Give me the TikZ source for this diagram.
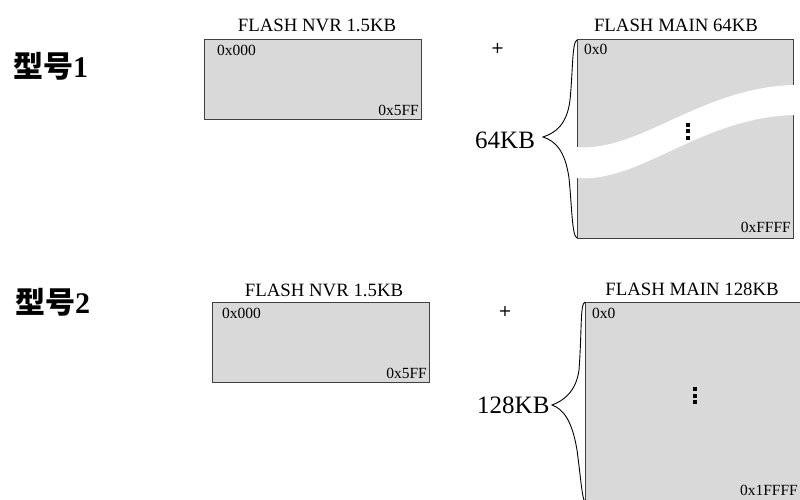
\documentclass[tikz,border=0pt]{standalone}
\usepackage{fontspec}
\setmainfont{Liberation Serif}
\newfontfamily\cjk{Noto Sans CJK SC}
\newfontfamily\plusfont{DejaVu Sans}
\definecolor{memfill}{HTML}{D9D9D9}
\definecolor{memline}{HTML}{404040}
\tikzset{
  membox/.style={draw=memline, fill=memfill, line width=1pt, inner sep=0pt, outer sep=0pt, anchor=north west},
  ttl/.style={inner sep=0pt, anchor=base, font=\fontsize{18.8}{20}\selectfont},
  addr/.style={inner sep=0pt, font=\fontsize{15.5}{16}\selectfont},
  sizelbl/.style={inner sep=0pt, anchor=base west, font=\fontsize{25}{26}\selectfont},
  model/.style={inner sep=0pt, anchor=base west, font=\fontsize{30}{32}\selectfont\bfseries},
  plus/.style={inner sep=0pt, font=\plusfont\fontsize{16}{16}\selectfont},
  bracel/.style={draw=black, line width=0.9pt},
  dot/.style={fill=black, minimum size=4pt, inner sep=0pt}
}
\begin{document}
\begin{tikzpicture}[x=1pt,y=-1pt]
\useasboundingbox (0,0) rectangle (800,500);
\fill[white] (0,0) rectangle (800,500);
\clip (0,0) rectangle (800,500);

% ---- model 1 ----
\node[model] (m1) at (13,78) {{\cjk\bfseries 型号}1};
\node[membox, minimum width=217pt, minimum height=80pt] (nvr1) at (204,40) {};
\node[ttl] (nvr1t) at (317,32) {FLASH NVR 1.5KB};
\node[addr, anchor=base west] (nvr1a) at (217,56) {0x000};
\node[addr, anchor=base east] (nvr1b) at (419,116) {0x5FF};
\node[plus] (p1) at (497.5,48) {+};

\node[membox, minimum width=216pt, minimum height=198pt] (main1) at (577,40) {};
\node[ttl] (main1t) at (676,32) {FLASH MAIN 64KB};
\fill[white] (575,147) .. controls (640,153) and (700,87) .. (795,85)
  -- (795,115) .. controls (700,117) and (640,184) .. (575,178) -- cycle;
\node[addr, anchor=base west] (main1a) at (584,55) {0x0};
\node[addr, anchor=base east] (main1b) at (791,232) {0xFFFF};
\node[dot] (d11) at (688,125) {};
\node[dot] (d12) at (688,131.5) {};
\node[dot] (d13) at (688,138) {};
\coordinate (b1tip) at (543,137);
\draw[bracel] (main1.north west) .. controls (572,42) and (573,70) .. (570,100)
  .. controls (567,125) and (555,133) .. (b1tip)
  .. controls (555,141) and (565,150) .. (569,178)
  .. controls (572,208) and (572,236) .. (main1.south west);
\node[sizelbl] (s1) at (475,148) {64KB};

% ---- model 2 ----
\node[model] (m2) at (15,313) {{\cjk\bfseries 型号}2};
\node[membox, minimum width=217pt, minimum height=80pt] (nvr2) at (212,302) {};
\node[ttl] (nvr2t) at (324,296) {FLASH NVR 1.5KB};
\node[addr, anchor=base west] (nvr2a) at (222,318) {0x000};
\node[addr, anchor=base east] (nvr2b) at (427,378) {0x5FF};
\node[plus] (p2) at (505,311) {+};

\node[membox, minimum width=217pt, minimum height=200pt] (main2) at (585,302) {};
\node[ttl] (main2t) at (692,295) {FLASH MAIN 128KB};
\node[addr, anchor=base west] (main2a) at (592,318) {0x0};
\node[addr, anchor=base east] (main2b) at (798,495) {0x1FFFF};
\node[dot] (d21) at (695,389) {};
\node[dot] (d22) at (695,395.5) {};
\node[dot] (d23) at (695,402) {};
\coordinate (b2tip) at (552,405);
\draw[bracel] (main2.north west) .. controls (580,304) and (582,330) .. (579,370)
  .. controls (576,392) and (563,401) .. (b2tip)
  .. controls (563,409) and (572,420) .. (577,450)
  .. controls (581,480) and (582,498) .. (main2.south west);
\node[sizelbl] (s2) at (477,413) {128KB};
\end{tikzpicture}
\end{document}
